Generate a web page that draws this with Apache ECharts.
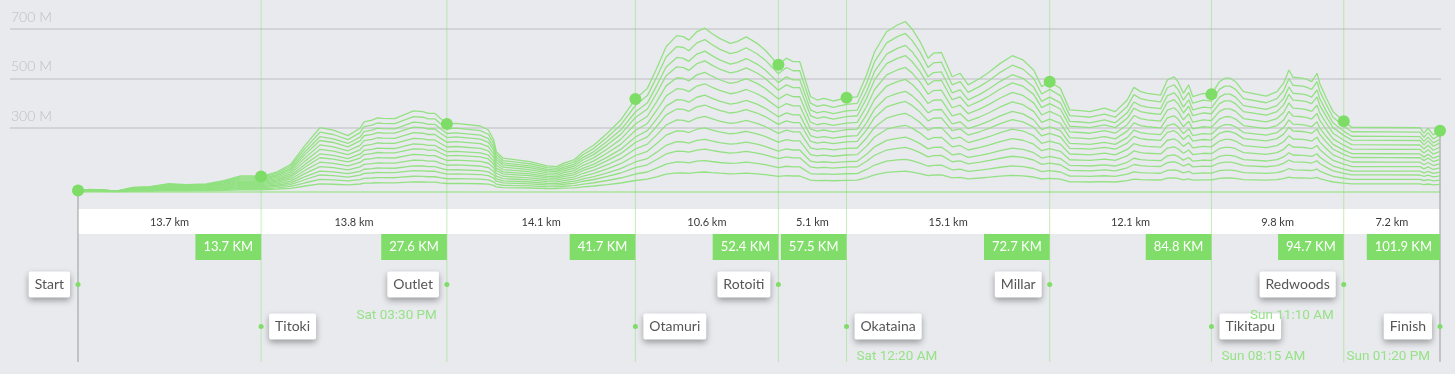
<!DOCTYPE html>
<html>
<head>
<meta charset="utf-8">
<script src="https://cdn.jsdelivr.net/npm/echarts@6/dist/echarts.min.js"></script>
<style>
  html, body { margin: 0; padding: 0; background: #e9eaed; }
  #chart { width: 1455px; height: 374px; }
</style>
</head>
<body>
<div id="chart"></div>
<script>
// elevation profile of the course (km along the route, metres)
const profileKm = [
  0, 0.9, 1.8, 2.9, 4.1, 5.4, 6.8, 8.1, 9.6, 10.9, 12.1, 13.0, 13.7, 14.9, 15.9, 17.0,
  18.1, 19.1, 20.2, 21.1, 21.4, 22.0, 22.4, 22.8, 23.7, 25.1, 25.8, 26.2, 26.7, 27.1,
  27.6, 28.3, 30.1, 30.7, 31.1, 31.3, 31.8, 32.8, 33.8, 35.1, 35.8, 36.3, 37.1, 37.8,
  38.6, 39.6, 40.6, 41.7, 42.6, 43.3, 44.0, 44.8, 45.3, 45.7, 46.3, 46.9, 47.4, 48.0,
  48.8, 49.3, 50.0, 50.8, 51.4, 52.4, 53.0, 53.5, 54.0, 54.8, 55.3, 55.8, 56.5, 57.5,
  58.3, 59.0, 59.6, 60.5, 61.3, 61.9, 62.4, 63.0, 63.6, 64.0, 64.6, 65.4, 66.0, 66.6,
  67.5, 68.2, 69.0, 69.9, 70.7, 71.5, 72.1, 72.7, 73.5, 74.2, 75.0, 75.7, 76.8, 77.6,
  78.5, 79.0, 79.5, 80.0, 81.0, 81.5, 82.0, 82.3, 82.7, 83.1, 83.4, 84.2, 84.8, 85.4,
  85.8, 86.2, 86.6, 87.2, 88.9, 89.7, 90.2, 90.6, 90.9, 91.6, 91.9, 92.3, 92.7, 92.9,
  93.4, 93.9, 94.7, 95.3, 98.0, 100.4, 100.7, 101.0, 101.4, 101.9
]
const profileElev = [
  47, 52, 50, 45, 60, 63, 75, 71, 74, 87, 106, 106, 104, 123, 152, 231,
  301, 291, 269, 299, 325, 332, 341, 339, 338, 369, 366, 359, 359, 339,
  316, 319, 308, 292, 252, 204, 178, 171, 164, 147, 144, 157, 171, 204,
  231, 279, 332, 417, 460, 541, 628, 673, 669, 655, 689, 703, 683, 662,
  642, 649, 668, 642, 615, 555, 582, 568, 568, 427, 413, 420, 409, 422,
  426, 514, 608, 689, 716, 730, 700, 649, 582, 602, 605, 507, 521, 474,
  501, 527, 561, 592, 575, 534, 467, 487, 460, 373, 370, 366, 380, 366,
  413, 464, 447, 440, 433, 494, 507, 487, 440, 474, 427, 440, 436, 487,
  501, 501, 487, 447, 429, 447, 481, 534, 505, 501, 497, 487, 521, 480,
  420, 366, 327, 303, 302, 301, 279, 299, 272, 289
]
// the profile is repeated as stacked ridge lines, each squashed towards the base level
const baseElev = 43
const layerScale = [1, 0.93, 0.86, 0.8, 0.73, 0.66, 0.59, 0.53, 0.46, 0.39, 0.32, 0.26, 0.19, 0.12]

const checkpointName = ['Start', 'Titoki', 'Outlet', 'Otamuri', 'Rotoiti', 'Okataina', 'Millar', 'Tikitapu', 'Redwoods', 'Finish']
const checkpointKm = [0, 13.7, 27.6, 41.7, 52.4, 57.5, 72.7, 84.8, 94.7, 101.9]
const checkpointElev = [47, 104, 316, 417, 555, 422, 487, 436, 327, 289]
const checkpointTime = ['', '', 'Sat 03:30 PM', '', '', 'Sat 12:20 AM', '', 'Sun 08:15 AM', 'Sun 11:10 AM', 'Sun 01:20 PM']
const segmentKm = ['13.7 km', '13.8 km', '14.1 km', '10.6 km', '5.1 km', '15.1 km', '12.1 km', '9.8 km', '7.2 km']
const elevTicks = [300, 500, 700]

// layout of the name tags: row 1 or 2, tag left or right of the line
const tagRow = [1, 2, 1, 2, 1, 2, 1, 2, 1, 2]
const tagSide = ['left', 'right', 'left', 'right', 'left', 'right', 'left', 'right', 'left', 'left']

const GREEN = '#80dd6a'
const LINE_GREEN = '#8fe07e'
const FONT = 'Lato, "Open Sans", sans-serif'

const chart = echarts.init(document.getElementById('chart'))

const ridgeSeries = layerScale.map(function (s) {
  return {
    type: 'line',
    xAxisIndex: 1,
    yAxisIndex: 1,
    showSymbol: false,
    silent: true,
    z: 5,
    lineStyle: { color: LINE_GREEN, width: 1.3, opacity: 0.95 },
    data: profileKm.map(function (k, i) {
      return [k, baseElev + (profileElev[i] - baseElev) * s]
    })
  }
})

const option = {
  backgroundColor: '#e9eaed',
  animation: false,
  grid: [
    { left: 10, right: 14, top: 29, height: 99 },
    { left: 78, right: 15, top: 0, bottom: 182.4 }
  ],
  xAxis: [
    { gridIndex: 0, type: 'value', show: false, min: 0, max: 1 },
    {
      gridIndex: 1,
      type: 'value',
      min: 0,
      max: 101.9,
      axisLine: { show: true, onZero: false, lineStyle: { color: '#a9e39c', width: 1.5 } },
      axisTick: { show: false },
      axisLabel: { show: false },
      splitLine: { show: false }
    }
  ],
  yAxis: [
    {
      gridIndex: 0,
      type: 'value',
      min: elevTicks[0],
      max: elevTicks[elevTicks.length - 1],
      interval: elevTicks[1] - elevTicks[0],
      axisLine: { show: false },
      axisTick: { show: false },
      axisLabel: {
        inside: true,
        margin: 1,
        align: 'left',
        verticalAlign: 'bottom',
        padding: [0, 0, 5, 0],
        color: '#bcbdc1',
        fontFamily: FONT,
        fontWeight: 300,
        fontSize: 14,
        formatter: '{value} M'
      },
      splitLine: { lineStyle: { color: '#cbccd0', width: 1.5 } }
    },
    { gridIndex: 1, type: 'value', min: baseElev, max: 817, show: false }
  ],
  series: [
    // distance band between checkpoints
    {
      type: 'custom',
      xAxisIndex: 1,
      yAxisIndex: 1,
      z: 1,
      silent: true,
      data: segmentKm.map(function (t, i) { return [checkpointKm[i], checkpointKm[i + 1], i] }),
      renderItem: function (params, api) {
        const x1 = api.coord([api.value(0), baseElev])[0]
        const x2 = api.coord([api.value(1), baseElev])[0]
        return {
          type: 'group',
          children: [
            { type: 'rect', shape: { x: x1, y: 209, width: x2 - x1, height: 25 }, style: { fill: '#ffffff' } },
            {
              type: 'text',
              x: (x1 + x2) / 2,
              y: 222,
              style: { text: segmentKm[api.value(2)], align: 'center', verticalAlign: 'middle', fill: '#3a3a3a', font: '11px ' + FONT }
            }
          ]
        }
      }
    },
    // checkpoint lines, distance boxes, name tags and times
    {
      type: 'custom',
      xAxisIndex: 1,
      yAxisIndex: 1,
      z: 2,
      silent: true,
      data: checkpointKm.map(function (k, i) { return [k, checkpointElev[i], i] }),
      renderItem: function (params, api) {
        const i = api.value(2)
        const p = api.coord([api.value(0), api.value(1)])
        const x = p[0]
        const last = checkpointKm.length - 1
        const edge = i === 0 || i === last
        const rowY = tagRow[i] === 1 ? 284.5 : 326.5
        const dir = tagSide[i] === 'left' ? -1 : 1
        const children = [
          {
            type: 'line',
            shape: { x1: x, y1: edge ? p[1] : 0, x2: x, y2: 362 },
            style: { stroke: edge ? '#9a9a9a' : 'rgba(128,221,106,0.45)', lineWidth: 1 }
          },
          { type: 'circle', shape: { cx: x, cy: rowY, r: 2.5 }, style: { fill: GREEN } },
          {
            type: 'text',
            x: x + dir * 8,
            y: rowY,
            style: {
              text: checkpointName[i],
              align: dir < 0 ? 'right' : 'left',
              verticalAlign: 'middle',
              fill: '#555',
              font: '14px ' + FONT,
              lineHeight: 14,
              backgroundColor: '#ffffff',
              padding: [6, 6, 6, 6],
              borderRadius: 2,
              shadowBlur: 6,
              shadowOffsetY: 3,
              shadowColor: 'rgba(0,0,0,0.35)'
            }
          }
        ]
        if (i > 0) {
          children.push({
            type: 'text',
            x: x,
            y: 234,
            style: {
              text: checkpointKm[i].toFixed(1) + ' KM',
              align: 'right',
              verticalAlign: 'top',
              fill: '#ffffff',
              font: '13px ' + FONT,
              lineHeight: 13,
              backgroundColor: GREEN,
              padding: [6.5, 8, 6.5, 8]
            }
          })
        }
        if (checkpointTime[i]) {
          children.push({
            type: 'text',
            x: x + dir * 10,
            y: rowY + (tagRow[i] === 1 ? 31 : 30.5),
            style: {
              text: checkpointTime[i],
              align: dir < 0 ? 'right' : 'left',
              verticalAlign: 'middle',
              fill: '#96e287',
              font: '13.5px Roboto, sans-serif'
            }
          })
        }
        return { type: 'group', children: children }
      }
    }
  ].concat(ridgeSeries).concat([
    {
      type: 'scatter',
      xAxisIndex: 1,
      yAxisIndex: 1,
      symbolSize: 12,
      z: 6,
      silent: true,
      itemStyle: { color: '#7ddd66', opacity: 1 },
      data: checkpointKm.map(function (k, i) { return [k, checkpointElev[i]] })
    }
  ])
}

chart.setOption(option)
</script>
</body>
</html>
